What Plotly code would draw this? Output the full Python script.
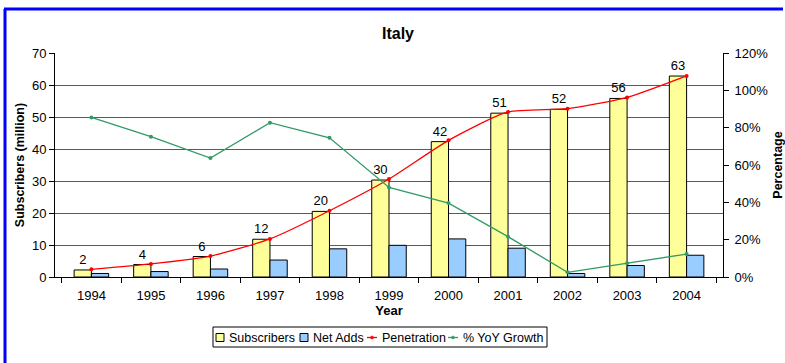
import plotly.graph_objects as go

years = ["1994", "1995", "1996", "1997", "1998", "1999", "2000", "2001", "2002", "2003", "2004"]
subscribers = [2.2, 3.9, 6.4, 11.8, 20.5, 30.3, 42.3, 51.2, 52.4, 55.8, 62.8]
net_adds = [1.1, 1.7, 2.5, 5.3, 8.8, 9.9, 11.9, 9.0, 1.1, 3.6, 6.8]
penetration = [0.041, 0.070, 0.112, 0.204, 0.355, 0.525, 0.732, 0.884, 0.902, 0.962, 1.077]
yoy_growth = [0.855, 0.752, 0.637, 0.827, 0.746, 0.480, 0.396, 0.216, 0.025, 0.073, 0.123]
series_names = ["Subscribers", "Net Adds", "Penetration", "% YoY Growth"]

FONT = "Liberation Sans, Arial, sans-serif"
C_SUB, C_NET, C_PEN, C_YOY = "#FFFF99", "#99CCFF", "#FF0000", "#339966"

fig = go.Figure()
fig.add_trace(go.Bar(
    x=years, y=subscribers, name=series_names[0],
    marker=dict(color=C_SUB, line=dict(color="black", width=1)),
    text=[f"{v:.0f}" for v in subscribers], textposition="outside",
    textfont=dict(size=13, color="black", family=FONT), cliponaxis=False,
))
fig.add_trace(go.Bar(
    x=years, y=net_adds, name=series_names[1],
    marker=dict(color=C_NET, line=dict(color="black", width=1)),
))
fig.add_trace(go.Scatter(
    x=years, y=penetration, name=series_names[2], yaxis="y2",
    mode="lines+markers", line=dict(color=C_PEN, width=1.3, shape="spline", smoothing=0.6),
    marker=dict(color=C_PEN, size=4),
))
fig.add_trace(go.Scatter(
    x=years, y=yoy_growth, name=series_names[3], yaxis="y2",
    mode="lines+markers", line=dict(color=C_YOY, width=1.3),
    marker=dict(color=C_YOY, size=4),
))

L, R, T, B = 55, 723, 53, 277
W, H = R - L, B - T
def px(x):
    return (x - L) / W
def py(y):
    return (B - y) / H

shapes = [
    dict(type="line", xref="paper", yref="paper", x0=px(4), x1=px(783), y0=py(9), y1=py(9),
         line=dict(color="#0000FF", width=3)),
    dict(type="line", xref="paper", yref="paper", x0=px(5), x1=px(5), y0=py(9), y1=py(370),
         line=dict(color="#0000FF", width=3)),
    # legend box
    dict(type="rect", xref="paper", yref="paper", x0=px(213), x1=px(547), y0=py(327), y1=py(347),
         line=dict(color="black", width=1), fillcolor="white"),
]
annotations = []
legend_y = 337.5
# bar-type legend entries
for name, color, sx, tx in [(series_names[0], C_SUB, 216, 227), (series_names[1], C_NET, 300, 311)]:
    shapes.append(dict(type="rect", xref="paper", yref="paper", x0=px(sx), x1=px(sx + 8),
                       y0=py(legend_y - 4), y1=py(legend_y + 4),
                       line=dict(color="black", width=1), fillcolor=color))
    annotations.append(dict(text=name, xref="paper", yref="paper", x=px(tx), y=py(legend_y),
                            xanchor="left", yanchor="middle", showarrow=False,
                            font=dict(size=12.5, family=FONT, color="black")))
# line-type legend entries
for name, color, sx, tx in [(series_names[2], C_PEN, 367, 380), (series_names[3], C_YOY, 448, 461)]:
    shapes.append(dict(type="line", xref="paper", yref="paper", x0=px(sx), x1=px(sx + 10),
                       y0=py(legend_y), y1=py(legend_y), line=dict(color=color, width=1.3)))
    shapes.append(dict(type="circle", xref="paper", yref="paper", x0=px(sx + 3.5), x1=px(sx + 6.5),
                       y0=py(legend_y - 1.5), y1=py(legend_y + 1.5),
                       line=dict(color=color, width=0.5), fillcolor=color))
    annotations.append(dict(text=name, xref="paper", yref="paper", x=px(tx), y=py(legend_y),
                            xanchor="left", yanchor="middle", showarrow=False,
                            font=dict(size=12.5, family=FONT, color="black")))

fig.update_layout(
    width=785, height=363,
    margin=dict(l=L, r=785 - R, t=T, b=363 - B, autoexpand=False),
    paper_bgcolor="white", plot_bgcolor="white",
    font=dict(family=FONT, size=13, color="black"),
    barmode="group", bargap=0.42, bargroupgap=0.0,
    showlegend=False,
    title=dict(text="<b>Italy</b>", x=px(398), xref="paper", xanchor="center",
               y=1 - 33 / 363, yanchor="middle", font=dict(size=16, family=FONT)),
    xaxis=dict(
        type="category", showgrid=False, showline=True, linecolor="black", linewidth=1,
        ticks="outside", tickson="boundaries", ticklen=5, tickcolor="black",
        tickfont=dict(size=13), ticklabelstandoff=6,
        title=dict(text="<b>Year</b>", font=dict(size=13), standoff=3),
    ),
    yaxis=dict(
        range=[0, 70], dtick=10, showgrid=True, gridcolor="#5a5a5a", gridwidth=1,
        showline=True, linecolor="black", linewidth=1, ticks="outside", ticklen=5,
        tickcolor="black", tickfont=dict(size=13), zeroline=False,
        title=dict(text="<b>Subscribers (million)</b>", font=dict(size=12.5), standoff=4),
    ),
    yaxis2=dict(
        range=[0, 1.2], dtick=0.2, tickformat=".0%", overlaying="y", side="right",
        showgrid=False, showline=True, linecolor="black", linewidth=1, ticks="outside",
        ticklen=5, tickcolor="black", tickfont=dict(size=13), zeroline=False,
        ticklabelstandoff=3,
        title=dict(text="<b>Percentage</b>", font=dict(size=12.5), standoff=8),
    ),
    shapes=shapes,
    annotations=annotations,
)

fig.write_html("out.html")
